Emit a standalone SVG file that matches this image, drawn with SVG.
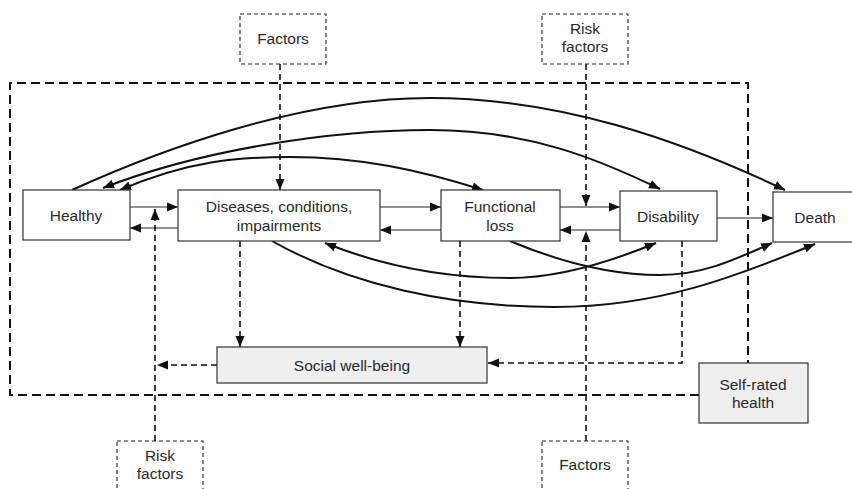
<svg xmlns="http://www.w3.org/2000/svg" width="852" height="489" viewBox="0 0 852 489">
<style>
.box{fill:#fff;stroke:#333;stroke-width:1.2}
.gbox{fill:#efefef;stroke:#333;stroke-width:1.2}
.fbox{fill:#fff;stroke:#222;stroke-width:1.1;stroke-dasharray:4 3}
.frame{fill:none;stroke:#111;stroke-width:2;stroke-dasharray:9 5}
.t{font-family:"Liberation Sans",Arial,sans-serif;font-size:15.5px;fill:#2a2a2a;text-anchor:middle}
.curve{fill:none;stroke:#111;stroke-width:2}
.h{fill:none;stroke:#222;stroke-width:1.2}
.d{fill:none;stroke:#111;stroke-width:1.6;stroke-dasharray:6 4}
</style>
<defs>
<marker id="ah" markerUnits="userSpaceOnUse" markerWidth="12" markerHeight="10" refX="11" refY="5" orient="auto-start-reverse"><path d="M0,0.5 L11,5 L0,9.5 z" fill="#111"/></marker>
</defs>

<g id="frame">
<path class="frame" d="M699,395 L10,395 L10,83 L748,83 L748,363"/>
</g>

<g id="connectors">
<path class="curve" d="M72,190 C160,150 300,98 430,98 C560,98 680,140 785,190" marker-end="url(#ah)"/>
<path class="curve" d="M103,188 C200,150 330,130 430,130 C530,130 600,160 660,189" marker-start="url(#ah)" marker-end="url(#ah)"/>
<path class="curve" d="M120,190 C190,160 240,157 290,157 C360,157 420,170 483,190" marker-start="url(#ah)" marker-end="url(#ah)"/>
<path class="curve" d="M325,243 C380,265 440,278 510,278 C560,278 610,262 656,243" marker-start="url(#ah)" marker-end="url(#ah)"/>
<path class="curve" d="M510,241 C560,262 610,275 660,275 C700,275 730,262 772,243" marker-end="url(#ah)"/>
<path class="curve" d="M272,241 C350,285 450,307 555,307 C660,307 740,275 815,244" marker-end="url(#ah)"/>
<path class="h" d="M130,207 L178,207" marker-end="url(#ah)"/>
<path class="h" d="M178,228 L130,228" marker-end="url(#ah)"/>
<path class="h" d="M380,207 L441,207" marker-end="url(#ah)"/>
<path class="h" d="M441,230 L380,230" marker-end="url(#ah)"/>
<path class="h" d="M560,207 L620,207" marker-end="url(#ah)"/>
<path class="h" d="M620,230 L560,230" marker-end="url(#ah)"/>
<path class="h" d="M717,218 L773,218" marker-end="url(#ah)"/>
<path class="d" d="M280,64 L280,190" marker-end="url(#ah)"/>
<path class="d" d="M586,64 L586,206" marker-end="url(#ah)"/>
<path class="d" d="M586,441 L586,231" marker-end="url(#ah)"/>
<path class="d" d="M155,441 L155,209" marker-end="url(#ah)"/>
<path class="d" d="M217,365 L157,365" marker-end="url(#ah)"/>
<path class="d" d="M240,241 L240,347" marker-end="url(#ah)"/>
<path class="d" d="M460,241 L460,347" marker-end="url(#ah)"/>
<path class="d" d="M682,241 L682,363 L488,363" marker-end="url(#ah)"/>
</g>

<g id="healthy">
<rect class="box" x="23" y="190" width="107" height="50"/>
<text class="t" x="76" y="221">Healthy</text>
</g>
<g id="diseases">
<rect class="box" x="178" y="190" width="202" height="51"/>
<text class="t" x="279" y="212">Diseases, conditions,</text>
<text class="t" x="279" y="231">impairments</text>
</g>
<g id="functional">
<rect class="box" x="441" y="190" width="119" height="51"/>
<text class="t" x="500" y="212">Functional</text>
<text class="t" x="500" y="231">loss</text>
</g>
<g id="disability">
<rect class="box" x="620" y="191" width="97" height="50"/>
<text class="t" x="668" y="222">Disability</text>
</g>
<g id="death">
<rect class="box" x="773" y="192" width="80" height="50"/>
<text class="t" x="815" y="223">Death</text>
</g>
<g id="social">
<rect class="gbox" x="217" y="347" width="270" height="36"/>
<text class="t" x="352" y="371">Social well-being</text>
</g>
<g id="selfrated">
<rect class="gbox" x="699" y="363" width="109" height="60"/>
<text class="t" x="753" y="390">Self-rated</text>
<text class="t" x="753" y="408">health</text>
</g>
<g id="factors-top">
<rect class="fbox" x="240" y="14" width="86" height="50"/>
<text class="t" x="283" y="44">Factors</text>
</g>
<g id="risk-top">
<rect class="fbox" x="542" y="14" width="86" height="50"/>
<text class="t" x="585" y="34">Risk</text>
<text class="t" x="585" y="52">factors</text>
</g>
<g id="risk-bottom">
<rect class="fbox" x="117" y="441" width="86" height="60"/>
<text class="t" x="160" y="461">Risk</text>
<text class="t" x="160" y="479">factors</text>
</g>
<g id="factors-bottom">
<rect class="fbox" x="542" y="441" width="86" height="60"/>
<text class="t" x="585" y="470">Factors</text>
</g>
</svg>
